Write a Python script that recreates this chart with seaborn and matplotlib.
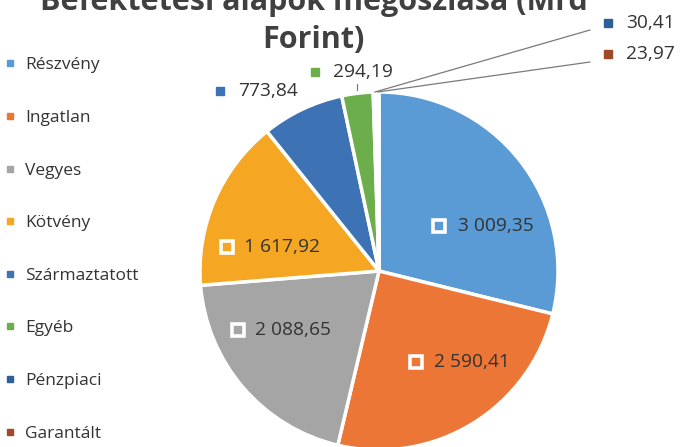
import matplotlib
matplotlib.use("Agg")
import matplotlib.pyplot as plt
from matplotlib.lines import Line2D
import numpy as np
import seaborn as sns

# ---- data ----
categories = ["Részvény", "Ingatlan", "Vegyes", "Kötvény", "Származtatott",
              "Egyéb", "Pénzpiaci", "Garantált"]
values = [3009.35, 2590.41, 2088.65, 1617.92, 773.84, 294.19, 30.41, 23.97]
title_lines = ["Befektetési alapok megoszlása (Mrd", "Forint)"]

# ---- style ----
sns.set_theme(style="white")
plt.rcParams["font.family"] = ["Open Sans", "DejaVu Sans"]
colors = sns.color_palette(["#5b9bd5", "#ec7636", "#a5a5a5", "#f5a623",
                            "#3d72b4", "#6cae4b", "#2b6196", "#a04a2a"])
TXT = "#333333"

W, H = 683, 447
CX, CY, R = 379, 271, 179          # pie centre (px from top-left) and radius

# label layout: (marker x, y from top, text x, inside?)
label_layout = [
    (439, 226, 458, True),
    (416, 362, 434, True),
    (238, 330, 255, True),
    (227, 247, 244, True),
    (220, 91, 238, False),
    (315, 72, 333, False),
    (608, 23, 626, False),
    (608, 54, 626, False),
]
leader_ends = {6: (590, 30), 7: (590, 62)}


def fmt(v):
    return f"{v:,.2f}".replace(",", " ").replace(".", ",")


fig = plt.figure(figsize=(W / 100, H / 100), dpi=100)
ax = fig.add_axes([0, 0, 1, 1])
wedges, _ = ax.pie(values, colors=colors, startangle=90, counterclock=False,
                   center=(CX, H - CY), radius=R,
                   wedgeprops=dict(edgecolor="white", linewidth=2.5))
ax.set_aspect("auto")
ax.set_xlim(0, W)
ax.set_ylim(0, H)
ax.axis("off")

for i, (w, v, col) in enumerate(zip(wedges, values, colors)):
    mx, my, tx, inside = label_layout[i]
    if inside:
        ax.plot([mx], [H - my], marker="s", ms=9, mfc=col, mec="white",
                mew=2.6, zorder=5, clip_on=False)
    else:
        ax.plot([mx], [H - my], marker="s", ms=6, mfc=col, mec=col,
                zorder=5, clip_on=False)
    ax.text(tx, H - my, fmt(v), fontsize=13.8, color=TXT, va="center",
            ha="left", zorder=6)
    mid = np.deg2rad((w.theta1 + w.theta2) / 2)
    ex, ey = CX + R * np.cos(mid), (H - CY) + R * np.sin(mid)
    if i in leader_ends:
        lx, ly = leader_ends[i]
        ax.plot([ex, lx], [ey, H - ly], color="#7a7a7a", lw=0.9, zorder=4)
    if i == 5:
        ax.plot([ex, ex], [ey + 3, ey + 9], color="#7a7a7a", lw=0.9, zorder=4)

# legend
handles = [Line2D([], [], marker="s", ls="none", ms=5, mfc=c, mec=c)
           for c in colors]
leg = ax.legend(handles, categories, loc="upper left",
                bbox_to_anchor=(0.0, 1 - 52 / H), bbox_transform=fig.transFigure,
                frameon=False, fontsize=12.5, labelspacing=2.1,
                handlelength=0.6, handletextpad=0.55, borderaxespad=0,
                borderpad=0.3)
for t in leg.get_texts():
    t.set_color(TXT)

# title (cut off at top as in reference)
fig.text(314 / W, 1 - 10 / H, title_lines[0], ha="center", va="baseline",
         fontsize=22, fontweight="bold", color="#404040")
fig.text(313 / W, 1 - 48 / H, title_lines[1], ha="center", va="baseline",
         fontsize=22, fontweight="bold", color="#404040")

fig.savefig("out.png", dpi=100, facecolor="white")
